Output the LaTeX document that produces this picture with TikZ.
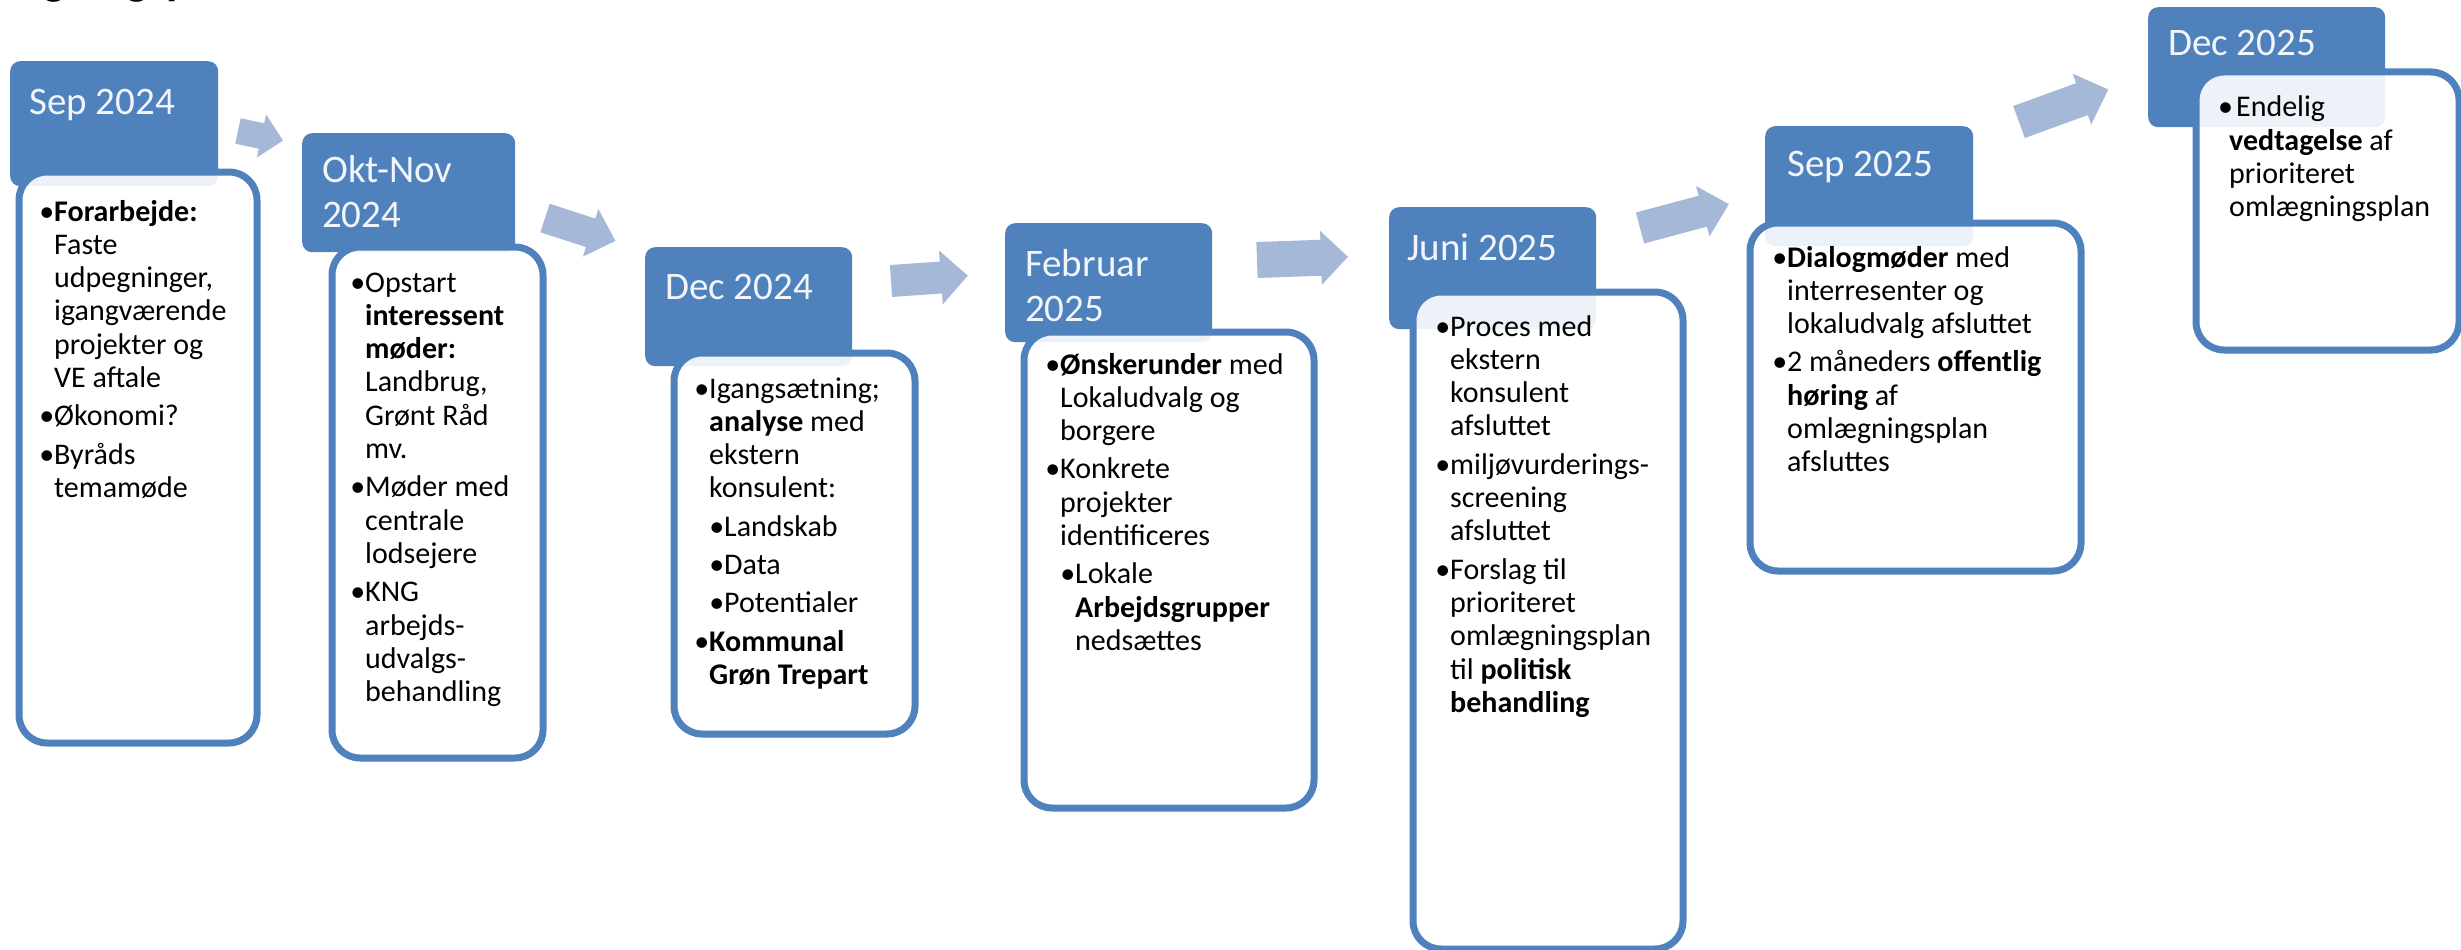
\documentclass[tikz,border=0pt]{standalone}
\usepackage{fontspec}
\setmainfont{Carlito}
\definecolor{hdrblue}{RGB}{79,129,189}
\definecolor{arrowblue}{RGB}{166,184,215}
\definecolor{hdrtext}{RGB}{242,246,251}
\newcommand\bul{\leavevmode\llap{•}}
\newcommand\subbul{\leavevmode\hspace*{15pt}\llap{•}}
\newcommand\tlarrow[7]{%
  \fill[arrowblue, shift={(#1,#2)}, rotate=#3] (0,-#5) -- ({#4-#7},-#5) -- ({#4-#7},-#6) -- (#4,0) -- ({#4-#7},#6) -- ({#4-#7},#5) -- (0,#5) -- cycle;}
\tikzset{
  hdr/.style={fill=hdrblue, rounded corners=10pt, inner sep=0pt, anchor=north west},
  bodybox/.style={draw=hdrblue, line width=7pt, fill=white, fill opacity=0.9, rounded corners=28pt, inner sep=0pt, anchor=north west},
  htext/.style={text=hdrtext, font=\fontsize{39pt}{45pt}\selectfont, anchor=base west, inner sep=0pt},
  btext/.style={text=black, font=\fontsize{30pt}{33.3pt}\selectfont, anchor=base west, inner sep=0pt},
}
\begin{document}
\begin{tikzpicture}[x=1pt,y=-1pt]
\useasboundingbox (0,0) rectangle (2461,950);
\fill[white] (0,0) rectangle (2461,950);
% heading cut off at the top edge (only descenders visible, as in the reference)
\begin{scope}
\clip (0,0) rectangle (2461,950);
\node[font=\bfseries\fontsize{46pt}{50pt}\selectfont, anchor=base west, inner sep=0pt] (title) at (-72,-5) {Omlægningsplan};
\end{scope}
% headers
\node[hdr, minimum width=208pt, minimum height=125pt] (h1) at (10,61) {};
\node[hdr, minimum width=213pt, minimum height=119pt] (h2) at (302,133) {};
\node[hdr, minimum width=207pt, minimum height=119pt] (h3) at (645,247) {};
\node[hdr, minimum width=207pt, minimum height=119pt] (h4) at (1005,223) {};
\node[hdr, minimum width=207pt, minimum height=122pt] (h5) at (1389,207) {};
\node[hdr, minimum width=208pt, minimum height=120pt] (h6) at (1765,126) {};
\node[hdr, minimum width=237pt, minimum height=120pt] (h7) at (2148,7) {};
% bodies
\node[bodybox, minimum width=238pt, minimum height=571pt] (b1) at (15.5,168.5) {};
\node[bodybox, minimum width=211pt, minimum height=511pt] (b2) at (328.5,243.5) {};
\node[bodybox, minimum width=241pt, minimum height=381pt] (b3) at (670.5,349.5) {};
\node[bodybox, minimum width=290pt, minimum height=476pt] (b4) at (1020.5,328.5) {};
\node[bodybox, minimum width=270pt, minimum height=657pt] (b5) at (1409.5,288.5) {};
\node[bodybox, minimum width=331pt, minimum height=348pt] (b6) at (1746.5,219.5) {};
\node[bodybox, minimum width=263pt, minimum height=278pt] (b7) at (2192.5,68.5) {};
% arrows
\tlarrow{238}{131}{-12}{46}{13}{22}{22}
\tlarrow{545}{218}{-18}{74}{15}{25}{26}
\tlarrow{891}{281}{4}{77}{16}{27}{27}
\tlarrow{1257}{260}{2}{91}{18}{27}{27}
\tlarrow{1640}{228}{15}{92}{16}{26}{27}
\tlarrow{2019}{122}{20}{95}{17}{27}{28}
% header texts
\node[htext] (t1) at (29,114) {Sep 2024};
\node[htext] (t2) at (322,182) {\parbox[t]{200pt}{Okt-Nov\\2024}};
\node[htext] (t3) at (665,299) {Dec 2024};
\node[htext] (t4) at (1025,276) {\parbox[t]{200pt}{Februar\\2025}};
\node[htext] (t5) at (1407,260) {Juni 2025};
\node[htext] (t6) at (1787,176) {Sep 2025};
\node[htext] (t7) at (2168,56) {Dec 2025};
% body texts
\node[btext] (c1) at (54,221) {\parbox[t]{300pt}{\raggedright
\bul\textbf{Forarbejde:}\\
Faste\\
udpegninger,\\
igangværende\\
projekter og\\
VE aftale\\[5pt]
\bul Økonomi?\\[5pt]
\bul Byråds\\
temamøde}};
\node[btext] (c2) at (365,292) {\parbox[t]{300pt}{\raggedright
\bul Opstart\\
\textbf{interessent}\\
\textbf{møder:}\\
Landbrug,\\
Grønt Råd\\
mv.\\[5pt]
\bul Møder med\\
centrale\\
lodsejere\\[5pt]
\bul KNG\\
arbejds-\\
udvalgs-\\
behandling}};
\node[btext] (c3) at (709,398) {\parbox[t]{300pt}{\raggedright
\bul Igangsætning;\\
\textbf{analyse} med\\
ekstern\\
konsulent:\\[5pt]
\subbul Landskab\\[5pt]
\subbul Data\\[5pt]
\subbul Potentialer\\[5pt]
\bul\textbf{Kommunal}\\
\textbf{Grøn Trepart}}};
\node[btext] (c4) at (1060,374) {\parbox[t]{300pt}{\raggedright
\bul\textbf{Ønskerunder} med\\
Lokaludvalg og\\
borgere\\[5pt]
\bul Konkrete\\
projekter\\
identificeres\\[5pt]
\subbul Lokale\\
\hspace*{15pt}\textbf{Arbejdsgrupper}\\
\hspace*{15pt}nedsættes}};
\node[btext] (c5) at (1450,336) {\parbox[t]{300pt}{\raggedright
\bul Proces med\\
ekstern\\
konsulent\\
afsluttet\\[5pt]
\bul miljøvurderings-\\
screening\\
afsluttet\\[5pt]
\bul Forslag til\\
prioriteret\\
omlægningsplan\\
til \textbf{politisk}\\
\textbf{behandling}}};
\node[btext] (c6) at (1787,267) {\parbox[t]{320pt}{\raggedright
\bul\textbf{Dialogmøder} med\\
interresenter og\\
lokaludvalg afsluttet\\[5pt]
\bul 2 måneders \textbf{offentlig}\\
\textbf{høring} af\\
omlægningsplan\\
afsluttes}};
\node[btext] (c7) at (2229,117) {\parbox[t]{230pt}{\raggedright
\hspace*{-11pt}•\hspace{3pt}Endelig\\
\textbf{vedtagelse} af\\
prioriteret\\
omlægningsplan}};
\end{tikzpicture}
\end{document}
